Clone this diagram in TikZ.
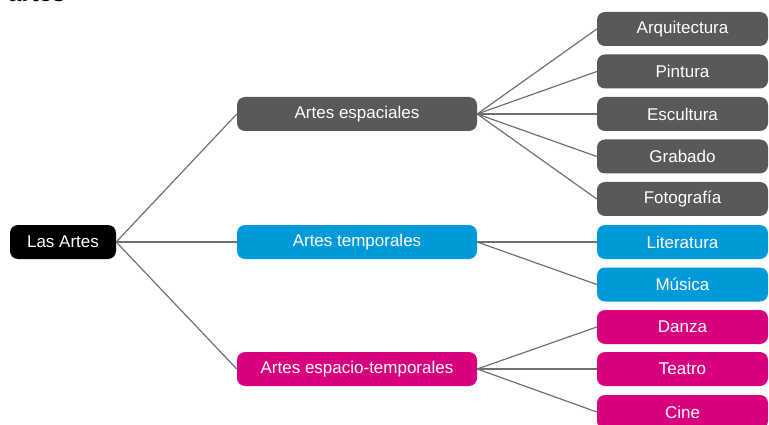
\documentclass[tikz,border=0pt]{standalone}
\usepackage{fontspec}
\setmainfont{Liberation Sans}
\definecolor{cgray}{HTML}{595959}
\definecolor{cblue}{HTML}{0099DA}
\definecolor{cmag}{HTML}{D9007E}
\definecolor{cline}{HTML}{707070}
\begin{document}
\begin{tikzpicture}[x=1pt,y=-1pt,
  box/.style={rounded corners=8pt, inner sep=0pt, minimum height=34pt, text=white,
     font=\fontsize{17}{20}\selectfont},
  root/.style={box, fill=black, minimum width=106pt},
  mid/.style={box, minimum width=240pt},
  leaf/.style={box, minimum width=171pt},
  link/.style={draw=cline, line width=1.2pt}]
\useasboundingbox (0,0) rectangle (769,425);
\node[anchor=base west, inner sep=0pt, font=\fontsize{24}{28}\selectfont\bfseries] (titulo) at (8,2) {artes};
\node[root] (las) at (63,242) {Las Artes};
\node[mid, fill=cgray] (esp) at (357,114) {Artes espaciales};
\node[mid, fill=cblue] (tem) at (357,242) {Artes temporales};
\node[mid, fill=cmag] (et) at (357,369) {Artes espacio-temporales};
\node[leaf, fill=cgray] (arq) at (682.5,29) {Arquitectura};
\node[leaf, fill=cgray] (pin) at (682.5,71.5) {Pintura};
\node[leaf, fill=cgray] (esc) at (682.5,114) {Escultura};
\node[leaf, fill=cgray] (gra) at (682.5,156.5) {Grabado};
\node[leaf, fill=cgray] (fot) at (682.5,199) {Fotografía};
\node[leaf, fill=cblue] (lit) at (682.5,242) {Literatura};
\node[leaf, fill=cblue] (mus) at (682.5,284.5) {Música};
\node[leaf, fill=cmag] (dan) at (682.5,327) {Danza};
\node[leaf, fill=cmag] (tea) at (682.5,369) {Teatro};
\node[leaf, fill=cmag] (cin) at (682.5,412) {Cine};
\foreach \c in {esp,tem,et} \path[link] (las.east) -- (\c.west);
\foreach \c in {arq,pin,esc,gra,fot} \path[link] (esp.east) -- (\c.west);
\foreach \c in {lit,mus} \path[link] (tem.east) -- (\c.west);
\foreach \c in {dan,tea,cin} \path[link] (et.east) -- (\c.west);
\end{tikzpicture}
\end{document}
